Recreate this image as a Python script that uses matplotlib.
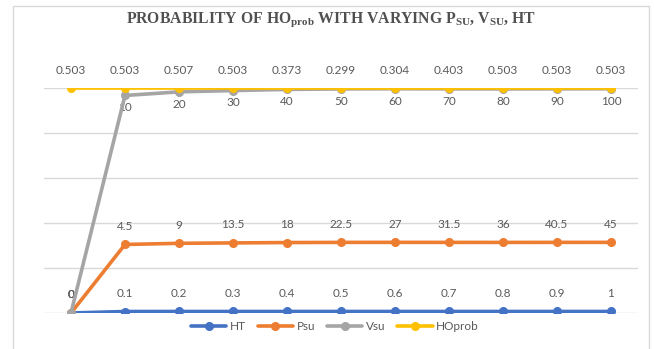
import numpy as np
import matplotlib.pyplot as plt
from matplotlib.patches import Rectangle

# raw series (data labels show these values)
ht = [0, 0.1, 0.2, 0.3, 0.4, 0.5, 0.6, 0.7, 0.8, 0.9, 1]
psu = [0, 4.5, 9, 13.5, 18, 22.5, 27, 31.5, 36, 40.5, 45]
vsu = [0, 10, 20, 30, 40, 50, 60, 70, 80, 90, 100]
hoprob = [0.503, 0.503, 0.507, 0.503, 0.373, 0.299, 0.304, 0.403, 0.503, 0.503, 0.503]

names = ['HT', 'Psu', 'Vsu', 'HOprob']
colors = ['#4472C4', '#ED7D31', '#A5A5A5', '#FFC000']
label_below = [False, False, True, False]

W, H = 654, 349
fig = plt.figure(figsize=(W / 100, H / 100), dpi=100)
ax = fig.add_axes([44 / W, (H - 313) / H, 594 / W, 225 / H])

# chart border
fig.patches.append(Rectangle((13 / W, -0.05), 636 / W, (H - 6) / H + 0.05,
                             transform=fig.transFigure, fill=False,
                             edgecolor='#D9D9D9', linewidth=1))

# 100% stacked line
data = np.array([ht, psu, vsu, hoprob], dtype=float)
cum = np.cumsum(data, axis=0) / data.sum(axis=0)
x = np.arange(len(ht))

for yv in np.arange(0, 1.01, 0.2):
    ax.axhline(yv, color='#D9D9D9', linewidth=1, zorder=0)

for i, name in enumerate(names):
    ax.plot(x, cum[i], color=colors[i], linewidth=2.6, marker='o',
            markersize=5.5, label=name, zorder=2 + i, solid_capstyle='round')
    for xi, yi, v in zip(x, cum[i], data[i]):
        if label_below[i] and v != 0:
            off, va = -5, 'top'
        else:
            off, va = 9, 'bottom'
        ax.annotate(f'{v:g}', (xi, yi), xytext=(0, off), textcoords='offset points',
                    ha='center', va=va, fontsize=8.5, color='#595959', family='Lato')

ax.set_xlim(-0.5, len(ht) - 0.5)
ax.set_ylim(0, 1)
ax.axis('off')

plt.rcParams['mathtext.fontset'] = 'custom'
plt.rcParams['mathtext.rm'] = 'Liberation Serif:bold'
plt.rcParams['mathtext.bf'] = 'Liberation Serif:bold'
fig.text(331 / W, 1 - 20 / H,
         r'PROBABILITY OF HO$_{\mathrm{prob}}$ WITH VARYING P$_{\mathrm{SU}}$, V$_{\mathrm{SU}}$, HT',
         ha='center', va='center', fontsize=11.3, fontweight='bold',
         family='Liberation Serif', color='#505050')

fig.legend(loc='center', bbox_to_anchor=(335 / W, 1 - 327 / H), ncol=4,
           frameon=False, handlelength=3, columnspacing=1.0,
           handletextpad=0.3, prop={'family': 'Lato', 'size': 8.5},
           labelcolor='#595959')

fig.savefig('out.png', dpi=100)
